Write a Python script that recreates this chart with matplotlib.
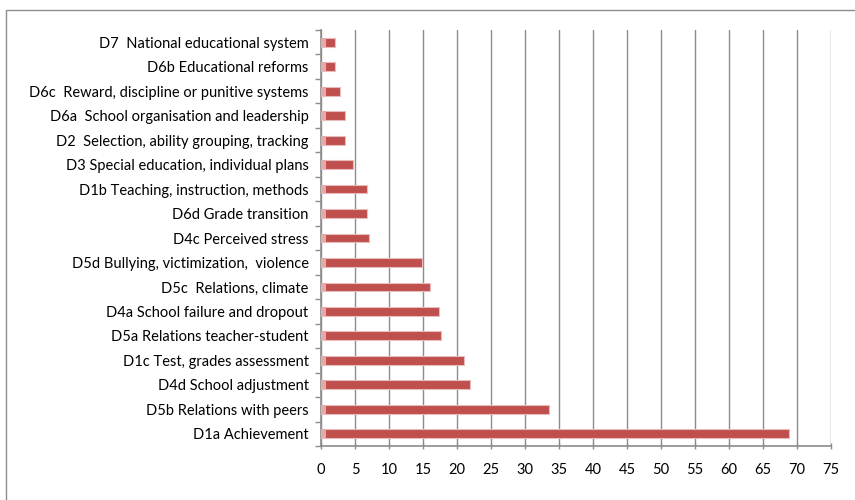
import numpy as np
import matplotlib.pyplot as plt
from matplotlib.patches import Rectangle

# categories, top to bottom as shown
categories = [
    "D7  National educational system",
    "D6b Educational reforms",
    "D6c  Reward, discipline or punitive systems",
    "D6a  School organisation and leadership",
    "D2  Selection, ability grouping, tracking",
    "D3 Special education, individual plans",
    "D1b Teaching, instruction, methods",
    "D6d Grade transition",
    "D4c Perceived stress",
    "D5d Bullying, victimization,  violence",
    "D5c  Relations, climate",
    "D4a School failure and dropout",
    "D5a Relations teacher-student",
    "D1c Test, grades assessment",
    "D4d School adjustment",
    "D5b Relations with peers",
    "D1a Achievement",
]
values = [2.1, 2.0, 2.8, 3.6, 3.6, 4.7, 6.8, 6.8, 7.1,
          14.8, 16.0, 17.4, 17.6, 21.1, 21.9, 33.5, 68.8]
xticks = list(range(0, 80, 5))

plt.rcParams['font.family'] = ['Lato', 'DejaVu Sans']

fig = plt.figure(figsize=(8.55, 5.0), dpi=100)
ax = fig.add_axes([321 / 855, 1 - 446 / 500, 510 / 855, 416 / 500])

# outer chart frame
fig.patches.append(Rectangle((6 / 855, -0.01), 1.0, 1 - 10 / 500 + 0.01,
                             transform=fig.transFigure, fill=False,
                             edgecolor='#8c8c8c', linewidth=1.0))

y = np.arange(len(categories))
ax.barh(y, values, height=0.36, color='#C0504D',
        edgecolor='#e8bcbb', linewidth=0.8, zorder=3)
# pale start of each bar
ax.barh(y, [0.7] * len(values), height=0.36, color='#e6a9a7',
        edgecolor='none', zorder=4)

ax.set_xlim(0, 75)
ax.set_ylim(len(categories) - 0.5, -0.5)
ax.set_xticks(xticks)
ax.set_xticklabels([str(t) for t in xticks], fontsize=10.5)
ax.set_yticks(y)
ax.set_yticklabels(categories, fontsize=10.5)
ax.tick_params(axis='y', length=0, pad=9)
ax.set_yticks(np.arange(-0.5, len(categories), 1), minor=True)
ax.tick_params(axis='y', which='minor', length=4, color='#8c8c8c', width=1)
ax.tick_params(axis='x', length=4, direction='inout', color='#8c8c8c',
               width=1, pad=10)

ax.grid(axis='x', color='#8c8c8c', linewidth=1.0, zorder=0)
ax.set_axisbelow(True)
for s in ['top', 'right']:
    ax.spines[s].set_visible(False)
for s in ['left', 'bottom']:
    ax.spines[s].set_color('#8c8c8c')
    ax.spines[s].set_linewidth(1.2)

fig.savefig('out.png', dpi=100)
